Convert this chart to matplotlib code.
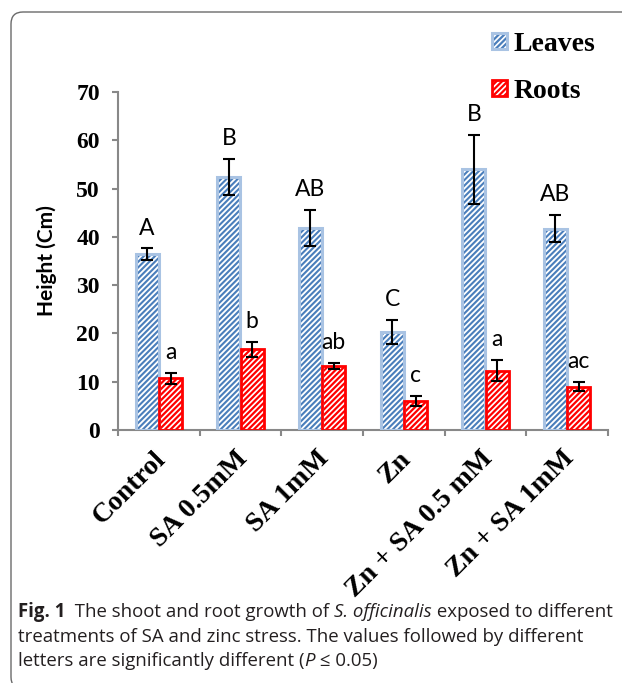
import matplotlib
matplotlib.use('Agg')
import matplotlib.pyplot as plt
import numpy as np
from matplotlib.patches import FancyBboxPatch
from matplotlib.transforms import IdentityTransform, ScaledTranslation
from matplotlib.legend_handler import HandlerTuple

# ---------------- data ----------------
categories = ["Control", "SA 0.5mM", "SA 1mM", "Zn", "Zn + SA 0.5 mM", "Zn + SA 1mM"]
leaves = [36.4, 52.4, 41.8, 20.3, 54.0, 41.7]
leaves_err = [1.2, 3.8, 3.7, 2.5, 7.1, 2.8]
roots = [10.7, 16.7, 13.3, 6.0, 12.3, 9.0]
roots_err = [1.1, 1.6, 0.6, 1.0, 2.2, 1.0]
leaves_letters = ["A", "B", "AB", "C", "B", "AB"]
roots_letters = ["a", "b", "ab", "c", "a", "ac"]
series_names = ["Leaves", "Roots"]
yticks = [0, 10, 20, 30, 40, 50, 60, 70]
caption_lines = [
    [("Fig. 1", "bold", "normal"), ("  The shoot and root growth of ", "normal", "normal"),
     ("S. officinalis", "normal", "italic"), (" exposed to different", "normal", "normal")],
    [("treatments of SA and zinc stress. The values followed by different", "normal", "normal")],
    [("letters are significantly different (", "normal", "normal"), ("P", "normal", "italic"),
     (" \u2264 0.05)", "normal", "normal")],
]

plt.rcParams["hatch.linewidth"] = 1.6

W, H = 622, 683
fig = plt.figure(figsize=(W / 100, H / 100), dpi=100)
ax = fig.add_axes([118 / W, 1 - 430 / H, 490 / W, 338 / H])

gray = "#888888"
blue_hatch = "#4a7ebb"
blue_edge = "#a9c3e3"
red = "#ff0000"

x = np.arange(len(categories)) + 0.5
off = 0.143
w = 0.28

lh = ax.bar(x - off, leaves, w, color="white", edgecolor=blue_hatch, hatch="//////", linewidth=0, zorder=2)
le = ax.bar(x - off, leaves, w, fill=False, edgecolor=blue_edge, linewidth=2.2, zorder=3)
rh = ax.bar(x + off, roots, w, color="white", edgecolor=red, hatch="//////", linewidth=0, zorder=2)
re_ = ax.bar(x + off, roots, w, fill=False, edgecolor=red, linewidth=2, zorder=3)
for bars, lw in ((lh, 1.5), (rh, 1.6)):
    for p in bars.patches:
        if hasattr(p, "set_hatch_linewidth"):
            p.set_hatch_linewidth(lw)

ekw = dict(fmt="none", ecolor="black", elinewidth=1.5, capsize=4.5, capthick=1.5, zorder=4)
ax.errorbar(x - off, leaves, yerr=leaves_err, **ekw)
ax.errorbar(x + off, roots, yerr=roots_err, **ekw)

lfont = dict(fontfamily="Lato", fontsize=16.5, ha="center", va="baseline")
for xi, v, e, t in zip(x - off, leaves, leaves_err, leaves_letters):
    ax.annotate(t, (xi, v + e), xytext=(0, 10), textcoords="offset points", **lfont)
for xi, v, e, t in zip(x + off, roots, roots_err, roots_letters):
    ax.annotate(t, (xi, v + e), xytext=(0, 10), textcoords="offset points", **lfont)

ax.set_xlim(0, len(categories))
ax.set_ylim(0, 70)
for s in ("top", "right"):
    ax.spines[s].set_visible(False)
for s in ("left", "bottom"):
    ax.spines[s].set_color(gray)
    ax.spines[s].set_linewidth(1.5)

ax.set_yticks(yticks)
ax.set_yticklabels([str(v) for v in yticks], fontfamily="Liberation Serif", fontweight="bold", fontsize=17)
ax.tick_params(axis="y", length=4.5, width=1.5, color=gray, pad=8.5)

ax.set_xticks(np.arange(len(categories) + 1))
ax.set_xticklabels([])
ax.tick_params(axis="x", which="major", length=4.5, width=1.5, color=gray)
ax.set_xticks(x, minor=True)
ax.set_xticklabels(categories, minor=True, rotation=45, ha="right", rotation_mode="anchor",
                   va="center", fontfamily="Liberation Serif", fontweight="bold", fontsize=20)
ax.tick_params(axis="x", which="minor", length=0, pad=18)
shift = ScaledTranslation(3 / 100, 0, fig.dpi_scale_trans)
for lab in ax.get_xticklabels(minor=True):
    lab.set_transform(lab.get_transform() + shift)

ax.set_ylabel("Height (Cm)", fontfamily="Lato", fontweight="bold", fontsize=15)
ax.yaxis.set_label_coords(-0.125, 0.5)

leg = fig.legend([(lh.patches[0], le.patches[0]), (rh.patches[0], re_.patches[0])], series_names,
                 handler_map={tuple: HandlerTuple(ndivide=1, pad=0)},
                 loc="upper left", bbox_to_anchor=(492 / W, 1 - 32 / H), frameon=False,
                 borderpad=0, borderaxespad=0, handlelength=0.54, handleheight=0.5,
                 handletextpad=0.22, labelspacing=0.8,
                 prop=dict(family="Liberation Serif", weight="bold", size=20))

# frame
frame = FancyBboxPatch((11, -6), 720, H - 12 + 6, boxstyle="round,pad=0,rounding_size=12",
                       transform=IdentityTransform(), fill=False, edgecolor="#6a6a6a", linewidth=1.0)
fig.add_artist(frame)

# caption
renderer = fig.canvas.get_renderer()
cap_fam = ["Open Sans", "DejaVu Sans"]


def seg_width(txt, size, weight, style):
    t1 = fig.text(0, 0, txt + "x", fontsize=size, fontfamily=cap_fam, fontweight=weight, fontstyle=style)
    t2 = fig.text(0, 0, "x", fontsize=size, fontfamily=cap_fam, fontweight=weight, fontstyle=style)
    wd = t1.get_window_extent(renderer).width - t2.get_window_extent(renderer).width
    t1.remove()
    t2.remove()
    return wd


base = 12.0
w1 = sum(seg_width(t, base, wt, st) for t, wt, st in caption_lines[0])
size = base * 595.0 / w1
baselines = [617, 642, 666]
for line, yb in zip(caption_lines, baselines):
    xp = 18.0
    for t, wt, st in line:
        fig.text(xp / W, 1 - yb / H, t, fontsize=size, fontfamily=cap_fam, fontweight=wt,
                 fontstyle=st, va="baseline", ha="left", color="#231f20")
        xp += seg_width(t, size, wt, st)

fig.savefig("out.png", dpi=100)
